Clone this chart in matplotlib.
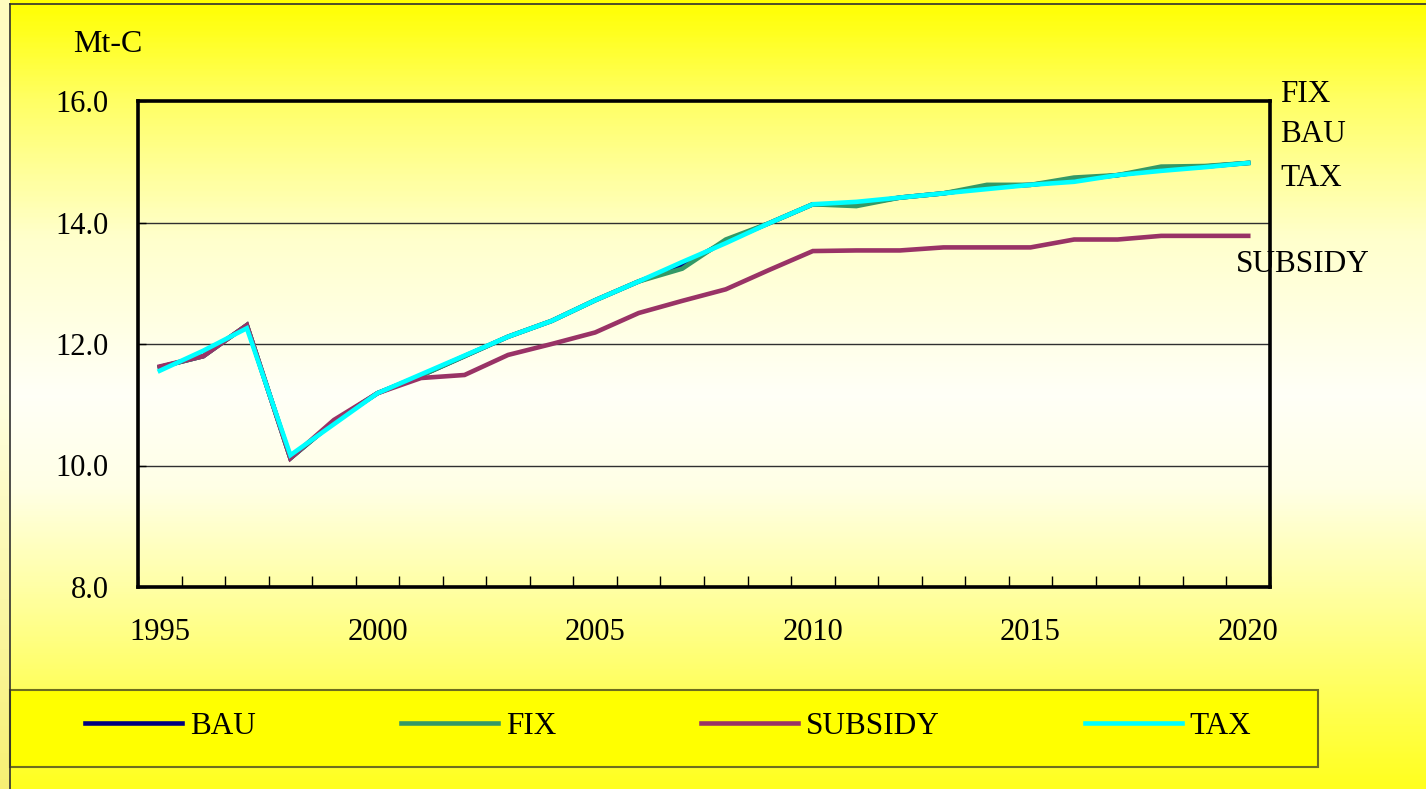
import numpy as np
import matplotlib
matplotlib.use("Agg")
import matplotlib.pyplot as plt
from matplotlib.lines import Line2D
from matplotlib.patches import Rectangle
from matplotlib.colors import LinearSegmentedColormap

plt.rcParams['font.family'] = ['Liberation Serif', 'DejaVu Serif']

years = list(range(1995, 2021))
bau = [11.62, 11.80, 12.31, 10.12, 10.72, 11.19, 11.48, 11.80, 12.12, 12.38, 12.72, 13.03,
       13.30, 13.69, 13.99, 14.30, 14.30, 14.41, 14.48, 14.58, 14.62, 14.70, 14.78, 14.88,
       14.92, 14.98]
fix = [11.62, 11.80, 12.31, 10.12, 10.72, 11.19, 11.48, 11.80, 12.12, 12.38, 12.72, 13.03,
       13.24, 13.72, 13.99, 14.30, 14.27, 14.41, 14.48, 14.62, 14.62, 14.74, 14.78, 14.92,
       14.93, 14.98]
subsidy = [11.63, 11.80, 12.31, 10.12, 10.75, 11.19, 11.44, 11.49, 11.82, 12.00, 12.19, 12.51,
           12.71, 12.90, 13.22, 13.53, 13.54, 13.54, 13.59, 13.59, 13.59, 13.72, 13.72, 13.78,
           13.78, 13.78]
tax = [11.56, 11.89, 12.26, 10.17, 10.68, 11.19, 11.50, 11.81, 12.12, 12.38, 12.72, 13.03,
       13.35, 13.66, 13.99, 14.30, 14.34, 14.41, 14.48, 14.55, 14.62, 14.67, 14.78, 14.85,
       14.91, 14.98]
series_names = ["BAU", "FIX", "SUBSIDY", "TAX"]
series_colors = ["#000080", "#339966", "#993366", "#00FFFF"]
yticks = [8.0, 10.0, 12.0, 14.0, 16.0]
xlabel_years = [1995, 2000, 2005, 2010, 2015, 2020]

W, H = 1426, 789
fig = plt.figure(figsize=(W / 100, H / 100), dpi=100)

# background gradient
bg = fig.add_axes([0, 0, 1, 1], zorder=-10)
bg.set_axis_off()
stops = [(0.0, (1, 1, 0.0)), (0.12, (1, 1, 0.38)), (0.3, (1, 1, 0.80)),
         (0.5, (1, 1, 0.97)), (0.62, (1, 1, 0.90)), (0.76, (1, 1, 0.62)),
         (0.88, (1, 1, 0.36)), (1.0, (1, 1, 0.12))]
cmap = LinearSegmentedColormap.from_list("bg", stops)
grad = np.linspace(0, 1, 400).reshape(-1, 1)
bg.imshow(grad, aspect='auto', cmap=cmap, extent=[0, 1, 0, 1], origin='upper')
# left pale strip
strip_stops = [(0.0, (1, 0.99, 0.75)), (0.5, (1, 1, 0.88)), (1.0, (0.97, 0.94, 0.45))]
scmap = LinearSegmentedColormap.from_list("strip", strip_stops)
bg.imshow(grad, aspect='auto', cmap=scmap, extent=[0, 10 / W, 0, 1], origin='upper')
bg.set_xlim(0, 1)
bg.set_ylim(0, 1)
# outer border
bg.plot([10 / W, 10 / W], [0, 1 - 4 / H], color='#303030', lw=1.2)
bg.plot([10 / W, 1], [1 - 4 / H, 1 - 4 / H], color='#303030', lw=1.2)
# legend box
bg.add_patch(Rectangle((10 / W, 1 - 767 / H), (1318 - 10) / W, (767 - 690) / H,
                       facecolor='#FFFF00', edgecolor='#6E6E1E', lw=1.5))

ax = fig.add_axes([138 / W, 1 - 587 / H, (1270 - 138) / W, (587 - 101) / H])
ax.set_facecolor('none')
x = np.arange(len(years))
for name, vals, col in zip(series_names, [bau, fix, subsidy, tax], series_colors):
    ax.plot(x, vals, color=col, lw=3.3, label=name, solid_joinstyle='miter')

ax.set_xlim(-0.5, len(years) - 0.5)
ax.set_ylim(8, 16)
ax.set_yticks(yticks)
ax.set_yticklabels([f"{v:.1f}" for v in yticks], fontsize=22, va='center_baseline')
for v in yticks[1:-1]:
    ax.axhline(v, color='#303030', lw=1.0, zorder=0)

ax.set_xticks(np.arange(len(years) + 1) - 0.5)
ax.set_xticklabels([])
ax.tick_params(axis='x', direction='in', length=8, width=1.0)
ax.tick_params(axis='y', direction='in', length=6, width=1.0, pad=21)
for yr in xlabel_years:
    i = years.index(yr)
    ax.text(i, -0.093, str(yr), transform=ax.get_xaxis_transform(), ha='center', va='center',
            fontsize=22)
for sp in ax.spines.values():
    sp.set_linewidth(2.6)
    sp.set_color('black')

fig.text(73 / W, 1 - 45 / H, "Mt-C", fontsize=23, ha='left', va='center')
# right-side labels
fig.text(1280 / W, 1 - 94 / H, "FIX", fontsize=22.5, ha='left', va='center')
fig.text(1280 / W, 1 - 135 / H, "BAU", fontsize=22.5, ha='left', va='center')
fig.text(1280 / W, 1 - 178 / H, "TAX", fontsize=22.5, ha='left', va='center')
fig.text(1236 / W, 1 - 264 / H, "SUBSIDY", fontsize=22.5, ha='left', va='center')

handles = [Line2D([], [], color=c, lw=3.3) for c in series_colors]
fig.legend(handles, series_names, loc='center left', bbox_to_anchor=(85 / W, 1 - 726 / H),
           ncol=4, frameon=False, fontsize=22.5, handlelength=3.1, handletextpad=0.26,
           columnspacing=4.64, borderpad=0, borderaxespad=0)

fig.savefig("out.png", dpi=100)
